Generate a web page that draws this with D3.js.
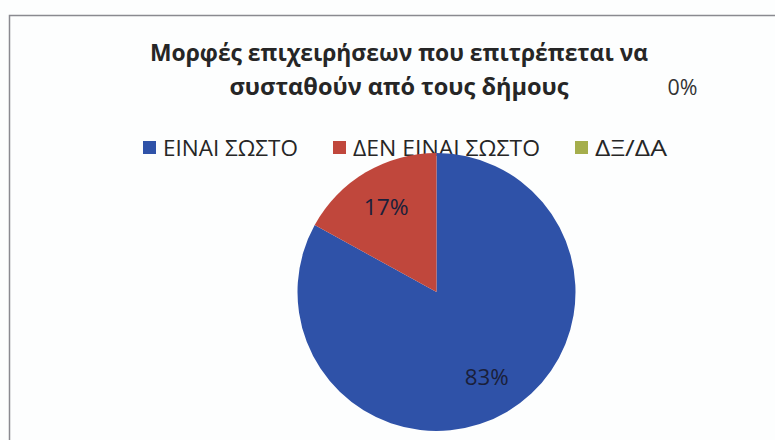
<!DOCTYPE html>
<html><head><meta charset="utf-8">
<script src="https://cdn.jsdelivr.net/npm/d3@7"></script>
<style>body{margin:0;background:#fff}svg{display:block}</style>
</head><body>
<script>
const categories = ["ΕΙΝΑΙ ΣΩΣΤΟ", "ΔΕΝ ΕΙΝΑΙ ΣΩΣΤΟ", "ΔΞ/ΔΑ"];
const values = [83, 17, 0];
const valueLabels = ["83%", "17%", "0%"];
const colors = ["#2f52a8", "#c0473c", "#a5ae4c"];
const titleLines = ["Μορφές επιχειρήσεων που επιτρέπεται να", "συσταθούν από τους δήμους"];

const W = 775, H = 440;
const svg = d3.select("body").append("svg").attr("width", W).attr("height", H);
svg.append("rect").attr("width", W).attr("height", H).attr("fill", "#fdfefe");

// frame
svg.append("path").attr("d", `M9.5,${H} V15.5 H${W}`).attr("fill", "none")
  .attr("stroke", "#8a8a90").attr("stroke-width", 1.5);

const font = "'Open Sans', 'Noto Sans', sans-serif";

// title
const titleX = 399, titleY = [61, 95], titleLen = [498, 339];
titleLines.forEach((t, i) => {
  svg.append("text").attr("x", titleX).attr("y", titleY[i]).attr("text-anchor", "middle")
    .attr("font-family", font).attr("font-weight", "bold").attr("font-size", 24)
    .attr("fill", "#262626").attr("textLength", titleLen[i]).attr("lengthAdjust", "spacingAndGlyphs")
    .text(t);
});

// legend
const legX = [143, 333, 575], legTextLen = [135, 187, 72];
const leg = svg.append("g").selectAll("g").data(categories).join("g")
  .attr("transform", (d, i) => `translate(${legX[i]},141)`);
leg.append("rect").attr("width", 13).attr("height", 13).attr("fill", (d, i) => colors[i]);
leg.append("text").attr("x", 20).attr("y", 15).attr("font-family", font).attr("font-size", 21.5)
  .attr("fill", "#262626").attr("textLength", (d, i) => legTextLen[i]).attr("lengthAdjust", "spacingAndGlyphs")
  .text(d => d);

// pie
const cx = 436.5, cy = 292, r = 139;
const pie = d3.pie().sort(null).value(d => d)(values);
const arc = d3.arc().innerRadius(0).outerRadius(r);
const labelArc = d3.arc().innerRadius(r * 0.71).outerRadius(r * 0.71);
const g = svg.append("g").attr("transform", `translate(${cx},${cy})`);
g.selectAll("path").data(pie).join("path").attr("d", arc).attr("fill", (d, i) => colors[i]);

// data labels (the 0% label was dragged away from its slice in the original)
const labelOffsets = [[0, 0], [0, 0], [246, -106]];
g.selectAll("text").data(pie).join("text")
  .attr("transform", (d, i) => {
    const c = labelArc.centroid(d);
    return `translate(${c[0] + labelOffsets[i][0]},${c[1] + labelOffsets[i][1]})`;
  })
  .attr("text-anchor", "middle").attr("dy", "0.36em")
  .attr("font-family", font).attr("font-size", 21.5).attr("fill", (d, i) => i === 2 ? "#333333" : "#1a1f3a")
  .attr("textLength", (d, i) => [44, 45, 30][i]).attr("lengthAdjust", "spacingAndGlyphs")
  .text((d, i) => valueLabels[i]);
</script>
</body></html>
